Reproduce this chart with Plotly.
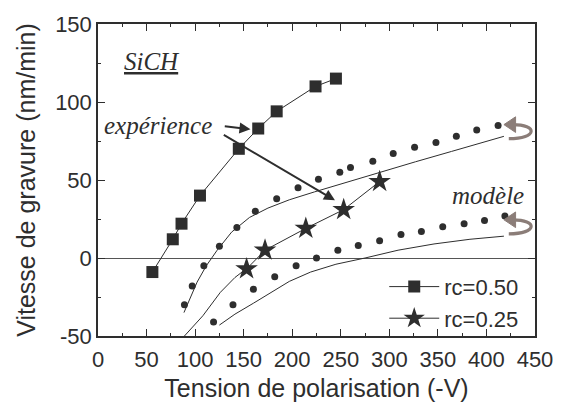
import plotly.graph_objects as go

# Experimental data
exp50_x = [56, 77, 86, 105, 145, 165, 184, 224, 245]
exp50_y = [-9, 12, 22, 40, 70, 83, 94, 110, 115]
exp25_x = [153, 172, 214, 253, 290]
exp25_y = [-7, 5, 19, 31, 49]

# Model curves (dotted)
mod_up_dot_x = [89, 97, 109, 125, 143, 162, 184, 206, 227, 249, 260, 283, 304, 326, 348, 369, 390, 412]
mod_up_dot_y = [-30, -18, -5, 7.5, 19.5, 30, 38, 45, 50.5, 55, 58, 62, 67, 71, 74, 78, 82, 85]
mod_lo_dot_x = [119, 139, 160, 182, 204, 225, 247, 268, 290, 312, 333, 355, 377, 398, 419]
mod_lo_dot_y = [-41, -30, -20, -12, -5, 0, 5, 8, 11, 15, 17, 20, 22, 24, 27]

# Model curves (solid)
mod_up_x = [88.5, 95, 102, 111.5, 122.7, 137.6, 156, 175, 197, 223, 253, 290, 327, 364, 418]
mod_up_y = [-35, -25, -15.5, -5, 5, 16.6, 26, 32, 37.3, 42.4, 48, 55, 61.7, 68.3, 78]
mod_lo_x = [125, 141, 160, 178, 197, 219, 245, 275, 309, 346, 383, 418]
mod_lo_y = [-43, -36, -29, -22, -15, -9, -4, 0, 5, 9, 12, 14]
mod_st_x = [89, 108, 126, 141, 152.5]
mod_st_y = [-50, -37, -22, -12.5, -7]

x_ticks = [0, 50, 100, 150, 200, 250, 300, 350, 400, 450]
y_ticks = [-50, 0, 50, 100, 150]
y_ticktext = ["-50", "0", "50", "100", "150"]

DARK = "#2e2e2e"
CURL = "#8b7d78"
SANS = "Liberation Sans, Arial, sans-serif"
SERIF = "Liberation Serif, Times New Roman, serif"

fig = go.Figure()

line_kw = dict(color=DARK, width=1)
fig.add_trace(go.Scatter(x=mod_up_x, y=mod_up_y, mode="lines", line=line_kw, showlegend=False))
fig.add_trace(go.Scatter(x=mod_lo_x, y=mod_lo_y, mode="lines", line=line_kw, showlegend=False))
fig.add_trace(go.Scatter(x=mod_st_x, y=mod_st_y, mode="lines", line=line_kw, showlegend=False))
fig.add_trace(go.Scatter(x=mod_up_dot_x, y=mod_up_dot_y, mode="markers",
                         marker=dict(symbol="circle", size=7, color=DARK), showlegend=False))
fig.add_trace(go.Scatter(x=mod_lo_dot_x, y=mod_lo_dot_y, mode="markers",
                         marker=dict(symbol="circle", size=7, color=DARK), showlegend=False))
fig.add_trace(go.Scatter(x=exp50_x, y=exp50_y, mode="lines+markers", name="rc=0.50",
                         line=line_kw, marker=dict(symbol="square", size=12, color=DARK)))
fig.add_trace(go.Scatter(x=exp25_x, y=exp25_y, mode="lines+markers", name="rc=0.25",
                         line=line_kw, marker=dict(symbol="star", size=17, color=DARK)))

# Annotations
fig.add_annotation(x=56, y=126, xref="x", yref="y", text="<i><u>SiCH</u></i>", showarrow=False,
                   font=dict(family=SERIF, size=25, color=DARK))
fig.add_annotation(x=62, y=85, xref="x", yref="y", text="<i>expérience</i>", showarrow=False,
                   font=dict(family=SERIF, size=25, color=DARK))
fig.add_annotation(x=402, y=40, xref="x", yref="y", text="<i>modèle</i>", showarrow=False,
                   font=dict(family=SERIF, size=25, color=DARK))
fig.add_annotation(x=157, y=82.5, ax=129, ay=84.5, xref="x", yref="y", axref="x", ayref="y",
                   text="", showarrow=True, arrowhead=2, arrowsize=1.1, arrowwidth=2, arrowcolor=DARK)
fig.add_annotation(x=244, y=37, ax=128, ay=79.5, xref="x", yref="y", axref="x", ayref="y",
                   text="", showarrow=True, arrowhead=2, arrowsize=1.1, arrowwidth=2, arrowcolor=DARK)

# Curl arrows at the end of model curves
for dy in [0, 61]:
    fig.add_shape(type="path", xref="x", yref="y",
                  path=f"M 427,{24.5+dy} C 453,{24.5+dy} 453,{15.5+dy} 423,{15.5+dy}",
                  line=dict(color=CURL, width=3.2))
    fig.add_shape(type="path", xref="x", yref="y",
                  path=f"M 418,{24.5+dy} L 430,{29.5+dy} L 430,{19.5+dy} Z",
                  line=dict(color=CURL, width=1), fillcolor=CURL)

axis_common = dict(showline=True, linecolor=DARK, linewidth=1.5, mirror="ticks",
                   ticks="inside", ticklen=7, tickwidth=1.3, tickcolor=DARK,
                   showgrid=False, tickfont=dict(family=SANS, size=22, color=DARK))

fig.update_xaxes(range=[0, 450], tickvals=x_ticks, zeroline=False, ticklabelstandoff=3,
                 minor=dict(ticks="inside", ticklen=3, dtick=25, tickcolor=DARK),
                 title=dict(text="Tension de polarisation (-V)", font=dict(family=SANS, size=25, color=DARK), standoff=8),
                 **axis_common)
fig.update_yaxes(range=[-50, 150], tickvals=y_ticks, ticktext=y_ticktext,
                 zeroline=True, zerolinecolor="#555555", zerolinewidth=1,
                 minor=dict(ticks="inside", ticklen=3, dtick=25, tickcolor=DARK),
                 title=dict(text="Vitesse de gravure (nm/min)", font=dict(family=SANS, size=25, color=DARK), standoff=12),
                 **axis_common)

fig.update_layout(
    width=567, height=410,
    margin=dict(l=98, r=32, t=23, b=65),
    paper_bgcolor="white", plot_bgcolor="white",
    legend=dict(x=0.655, y=0.225, xanchor="left", yanchor="top", bgcolor="rgba(0,0,0,0)",
                font=dict(family=SANS, size=22, color=DARK), tracegroupgap=0, itemwidth=50),
)

fig.write_html("out.html", config={"displayModeBar": False},
               post_script="document.body.style.margin='0';document.body.style.overflow='hidden';")
